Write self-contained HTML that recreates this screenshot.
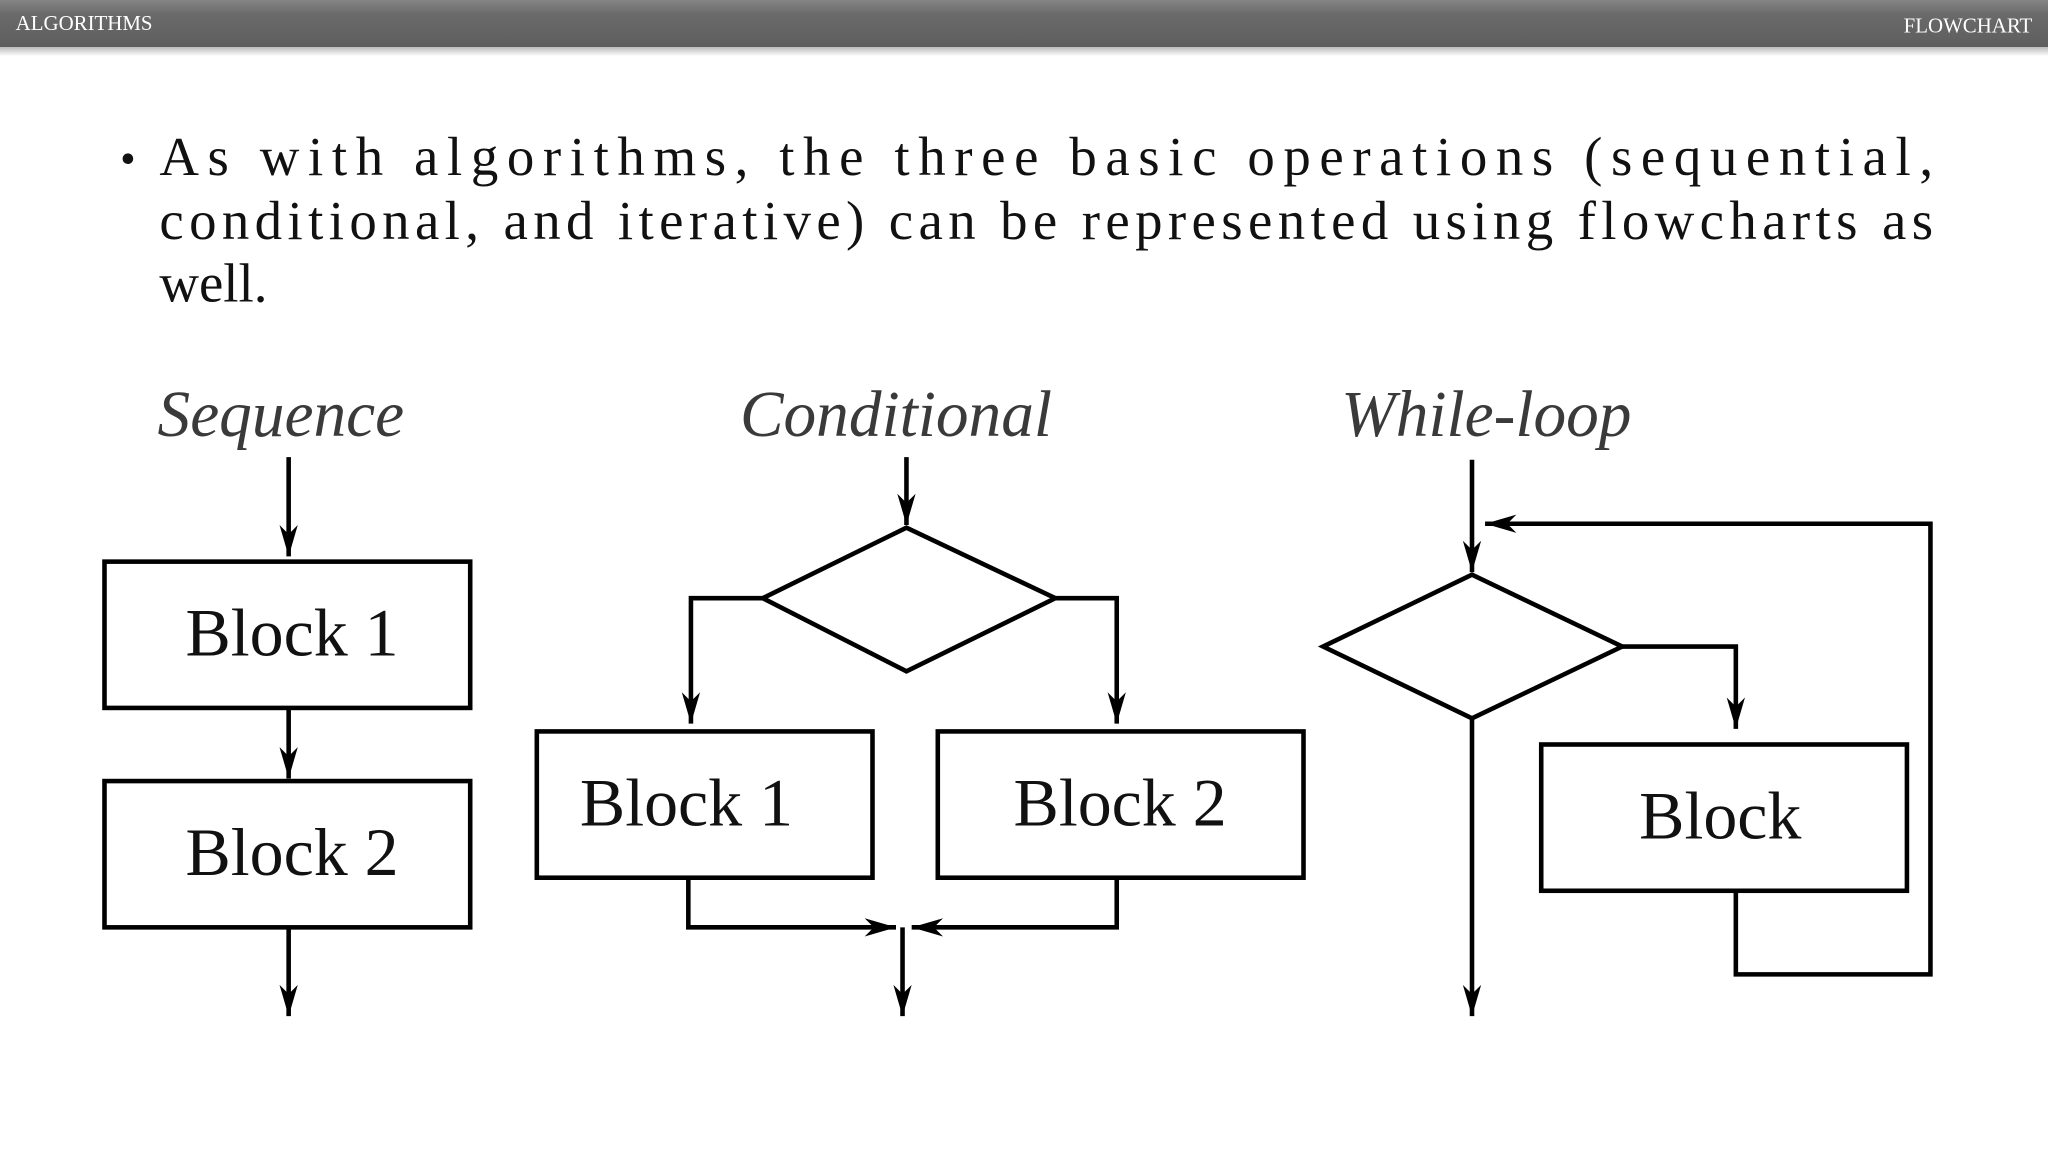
<!DOCTYPE html>
<html><head><meta charset="utf-8"><style>
html,body{margin:0;padding:0;background:#fff;}
svg{display:block;}
</style></head><body>
<svg width="2048" height="1152" viewBox="0 0 1568 882" xmlns="http://www.w3.org/2000/svg">
<defs>
<linearGradient id="hb" x1="0" y1="0" x2="0" y2="1">
<stop offset="0" stop-color="#858585"/><stop offset="0.3" stop-color="#6a6a6a"/><stop offset="1" stop-color="#5e5e5e"/>
</linearGradient>
<linearGradient id="sh" x1="0" y1="0" x2="0" y2="1">
<stop offset="0" stop-color="#bbb"/><stop offset="1" stop-color="#fff"/>
</linearGradient>
<marker id="ar" markerUnits="userSpaceOnUse" markerWidth="40" markerHeight="40" refX="0" refY="0" orient="auto" overflow="visible">
<path d="M0,0 L-24,-7 L-17,0 L-24,7 Z" fill="#000"/>
</marker>
</defs>
<rect x="0" y="0" width="1568" height="36" fill="url(#hb)"/>
<rect x="0" y="36" width="1568" height="7" fill="url(#sh)"/>
<text x="12" y="23" font-family="Liberation Serif, serif" font-size="16" fill="#fff">ALGORITHMS</text>
<text x="1556" y="25" text-anchor="end" font-family="Liberation Serif, serif" font-size="16" fill="#fff">FLOWCHART</text>

<g font-family="Liberation Serif, serif" font-size="42" fill="#111">
<text x="92" y="133" font-size="34">•</text>
<text x="122" y="134" textLength="1358" lengthAdjust="spacing">As with algorithms, the three basic operations (sequential,</text>
<text x="122" y="183" textLength="1358" lengthAdjust="spacing">conditional, and iterative) can be represented using flowcharts as</text>
<text x="122" y="231">well.</text>
</g>

<g font-family="Liberation Serif, serif" font-style="italic" font-size="50" fill="#3a3a3a">
<text x="215" y="334" text-anchor="middle">Sequence</text>
<text x="686" y="334" text-anchor="middle">Conditional</text>
<text x="1138" y="334" text-anchor="middle">While-loop</text>
</g>

<g stroke="#000" stroke-width="3.5" fill="none">
<!-- Sequence -->
<line x1="221" y1="350" x2="221" y2="426" marker-end="url(#ar)"/>
<rect x="80" y="430" width="280" height="112" fill="#fff"/>
<line x1="221" y1="542" x2="221" y2="596" marker-end="url(#ar)"/>
<rect x="80" y="598" width="280" height="112" fill="#fff"/>
<line x1="221" y1="710" x2="221" y2="778" marker-end="url(#ar)"/>

<!-- Conditional -->
<line x1="694" y1="350" x2="694" y2="402" marker-end="url(#ar)"/>
<path d="M694,404 L808,458 L694,514 L584,458 Z"/>
<path d="M584,458 L529,458 L529,554" marker-end="url(#ar)"/>
<path d="M808,458 L855,458 L855,554" marker-end="url(#ar)"/>
<rect x="411" y="560" width="257" height="112"/>
<rect x="718" y="560" width="280" height="112"/>
<path d="M527,672 L527,710 L686,710" marker-end="url(#ar)"/>
<path d="M855,672 L855,710 L698,710" marker-end="url(#ar)"/>
<line x1="691" y1="710" x2="691" y2="778" marker-end="url(#ar)"/>

<!-- While -->
<line x1="1127" y1="352" x2="1127" y2="438" marker-end="url(#ar)"/>
<path d="M1127,440 L1242,495 L1127,550 L1013,495 Z"/>
<line x1="1127" y1="550" x2="1127" y2="778" marker-end="url(#ar)"/>
<path d="M1242,495 L1329,495 L1329,558" marker-end="url(#ar)"/>
<rect x="1180" y="570" width="280" height="112"/>
<path d="M1329,682 L1329,746 L1478,746 L1478,401 L1137,401" marker-end="url(#ar)"/>
</g>

<g font-family="Liberation Serif, serif" font-size="52" fill="#111">
<text x="142" y="502">Block 1</text>
<text x="142" y="670">Block 2</text>
<text x="444" y="632">Block 1</text>
<text x="776" y="632">Block 2</text>
<text x="1255" y="642">Block</text>
</g>
</svg>
</body></html>
